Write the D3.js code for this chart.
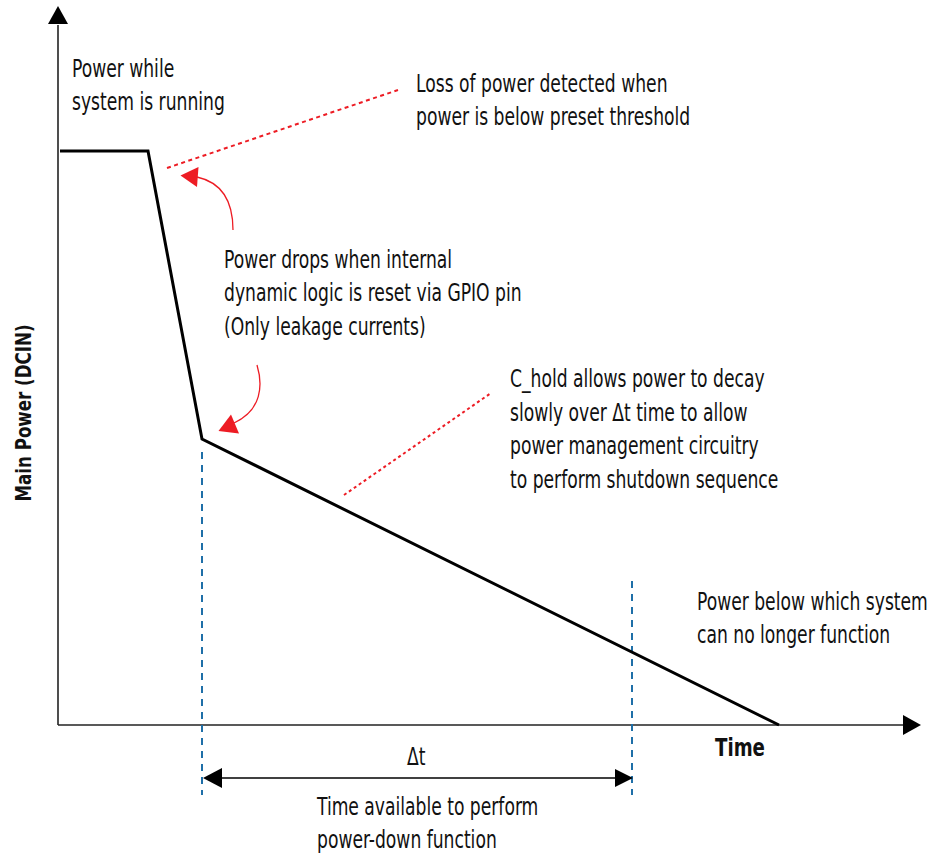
<!DOCTYPE html>
<html>
<head>
<meta charset="utf-8">
<script src="https://cdn.jsdelivr.net/npm/d3@7"></script>
<style>
  body { margin: 0; background: #fff; }
  text { font-family: "DejaVu Sans Condensed", "DejaVu Sans", sans-serif; fill: #111; }
</style>
</head>
<body>
<svg id="chart" width="932" height="854"></svg>
<script>
// power-down profile (time units, power units)
const time = [0.2, 9.0, 14.4, 72.1];
const power = [57.4, 57.4, 28.6, 0];
const holdStart = 14.4;
const holdEnd = 57.4;

const xLabel = "Time";
const yLabel = "Main Power (DCIN)";
const runningNote = ["Power while", "system is running"];
const detectNote = ["Loss of power detected when", "power is below preset threshold"];
const dropNote = ["Power drops when internal", "dynamic logic is reset via GPIO pin", "(Only leakage currents)"];
const holdNote = ["C_hold allows power to decay", "slowly over \u0394t time to allow", "power management circuitry", "to perform shutdown sequence"];
const floorNote = ["Power below which system", "can no longer function"];
const windowNote = ["Time available to perform", "power-down function"];

const svg = d3.select("#chart"),
    width = 932,
    height = 854;

const x = d3.scaleLinear().domain([0, 86.3]).range([58, 921]);
const y = d3.scaleLinear().domain([0, 71.9]).range([725, 6]);

const red = "#ed1c24", blue = "#1f6fa8";

// the original uses a condensed face, so squeeze the text to match
const probe = svg.append("text").attr("font-size", 25).text(floorNote[0]);
const sx = 231 / probe.node().getComputedTextLength();
probe.remove();

// helper for multi-line text
const note = (lines, tx, ty, lh) => {
    const t = svg.append("text")
        .attr("font-size", 25)
        .attr("transform", `translate(${tx},${ty}) scale(${sx},1)`);
    lines.forEach((l, i) => {
        t.append("tspan").attr("x", 0).attr("y", i * lh).text(l);
    });
    return t;
};

// axes
svg.append("line")
   .attr("x1", x(0)).attr("x2", x(0))
   .attr("y1", y(0)).attr("y2", y(70))
   .attr("stroke", "#222").attr("stroke-width", 1.6);
svg.append("path")
   .attr("d", `M${x(0)},${y(71.9)}L${x(-1)},${y(70.1)}L${x(1)},${y(70.1)}Z`)
   .attr("fill", "#000");
svg.append("line")
   .attr("x1", x(0)).attr("x2", x(84.5))
   .attr("y1", y(0)).attr("y2", y(0))
   .attr("stroke", "#222").attr("stroke-width", 1.6);
svg.append("path")
   .attr("d", `M${x(86.3)},${y(0)}L${x(84.5)},${y(1)}L${x(84.5)},${y(-1)}Z`)
   .attr("fill", "#000");

// axis titles
svg.append("text")
   .attr("transform", `translate(740,756) scale(${sx + 0.08},1)`)
   .attr("text-anchor", "middle")
   .attr("font-size", 24).attr("font-weight", "bold")
   .text(xLabel);
svg.append("text")
   .attr("transform", `translate(31,413) rotate(-90) scale(${sx + 0.08},1)`)
   .attr("text-anchor", "middle")
   .attr("font-size", 22).attr("font-weight", "bold")
   .text(yLabel);

// hold window markers
[holdStart, holdEnd].forEach((t, i) => {
    svg.append("line")
       .attr("x1", x(t)).attr("x2", x(t))
       .attr("y1", i ? 581 : 452).attr("y2", 795)
       .attr("stroke", blue).attr("stroke-width", 2)
       .attr("stroke-dasharray", "7,6");
});

// the power curve
const line = d3.line()
    .x((d, i) => x(time[i]))
    .y(d => y(d));
svg.append("path")
   .datum(power)
   .attr("d", line)
   .attr("fill", "none")
   .attr("stroke", "#000")
   .attr("stroke-width", 3)
   .attr("stroke-linejoin", "miter");

// delta t dimension arrow
const ay = 778;
svg.append("line")
   .attr("x1", x(holdStart) + 15).attr("x2", x(holdEnd) - 15)
   .attr("y1", ay).attr("y2", ay)
   .attr("stroke", "#000").attr("stroke-width", 1.6);
svg.append("path")
   .attr("d", `M${x(holdStart) + 1},${ay}L${x(holdStart) + 20},${ay - 10}L${x(holdStart) + 20},${ay + 10}Z`)
   .attr("fill", "#000");
svg.append("path")
   .attr("d", `M${x(holdEnd) + 1},${ay}L${x(holdEnd) - 17},${ay - 9}L${x(holdEnd) - 17},${ay + 9}Z`)
   .attr("fill", "#000");
note(["\u0394t"], 407, 765, 0);
note(windowNote, 317, 815, 33);

// red callouts
svg.append("line")
   .attr("x1", 167).attr("y1", 168).attr("x2", 398).attr("y2", 90)
   .attr("stroke", red).attr("stroke-width", 2).attr("stroke-dasharray", "4,3.5");
svg.append("line")
   .attr("x1", 344).attr("y1", 495).attr("x2", 491).attr("y2", 393)
   .attr("stroke", red).attr("stroke-width", 2).attr("stroke-dasharray", "3,3");

const p1 = d3.path();
p1.moveTo(233, 230);
p1.quadraticCurveTo(233, 185, 197, 177);
svg.append("path").attr("d", p1.toString())
   .attr("fill", "none").attr("stroke", red).attr("stroke-width", 1.3);
svg.append("path").attr("d", "M180.5,175.5L198.5,167L197,187Z").attr("fill", red);

const p2 = d3.path();
p2.moveTo(257, 365);
p2.bezierCurveTo(263, 385, 262, 410, 234, 423);
svg.append("path").attr("d", p2.toString())
   .attr("fill", "none").attr("stroke", red).attr("stroke-width", 1.3);
svg.append("path").attr("d", "M218.5,431L231,414.5L239,433.5Z").attr("fill", red);

// annotations
note(runningNote, 72, 77, 33);
note(detectNote, 416, 92, 33);
note(dropNote, 224, 268, 33.5);
note(holdNote, 510, 387, 33.7);
note(floorNote, 697, 610, 33);
</script>
</body>
</html>
